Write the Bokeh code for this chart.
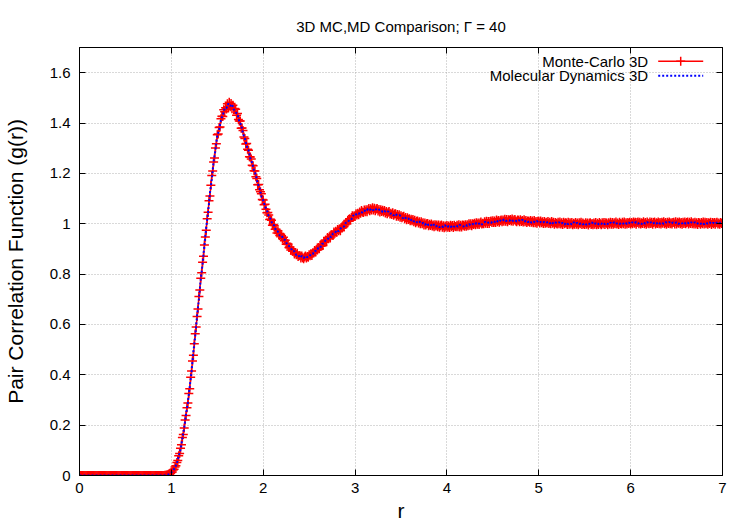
import numpy as np
from bokeh.plotting import figure
from bokeh.models import Range1d, LinearAxis, FixedTicker, CustomJSTickFormatter
from bokeh.core.properties import value
from bokeh.embed import file_html
from bokeh.resources import INLINE

# ---- text and ticks ----
title_text = "3D MC,MD Comparison; \u0393 = 40"
x_label = "r"
y_label = "Pair Correlation Function (g(r))"
series_names = ["Monte-Carlo 3D", "Molecular Dynamics 3D"]
x_ticks = [0, 1, 2, 3, 4, 5, 6, 7]
y_ticks = [0, 0.2, 0.4, 0.6, 0.8, 1.0, 1.2, 1.4, 1.6]

# ---- Monte-Carlo g(r), bins of width 0.01 starting at r = 0 ----
mc_dr = 0.01
g_mc = [
    0, 0, 0, 0, 0, 0, 0, 0, 0, 0,
    0, 0, 0, 0, 0, 0, 0, 0, 0, 0,
    0, 0, 0, 0, 0, 0, 0, 0, 0, 0,
    0, 0, 0, 0, 0, 0, 0, 0, 0, 0,
    0, 0, 0, 0, 0, 0, 0, 0, 0, 0,
    0, 0, 0, 0, 0, 0, 0, 0, 0, 0,
    0, 0, 0, 0, 0, 0, 0, 0, 0, 0,
    0, 0, 0, 0, 0, 0, 0, 0, 0, 0,
    0, 0, 0, 0, 0, 0, 0, 0, 0, 0,
    0.000, 0.000, 0.000, 0.001, 0.001, 0.002, 0.003, 0.005, 0.006, 0.008,
    0.012, 0.014, 0.022, 0.025, 0.034, 0.039, 0.052, 0.060, 0.078, 0.087,
    0.108, 0.122, 0.151, 0.163, 0.189, 0.220, 0.238, 0.269, 0.288, 0.326,
    0.345, 0.390, 0.415, 0.455, 0.478, 0.523, 0.563, 0.590, 0.632, 0.661,
    0.711, 0.737, 0.783, 0.805, 0.847, 0.871, 0.916, 0.947, 0.974, 1.020,
    1.046, 1.091, 1.110, 1.153, 1.192, 1.209, 1.245, 1.261, 1.301, 1.318,
    1.353, 1.356, 1.382, 1.384, 1.417, 1.427, 1.426, 1.453, 1.445, 1.461,
    1.456, 1.477, 1.465, 1.483, 1.465, 1.478, 1.457, 1.471, 1.455, 1.458,
    1.455, 1.431, 1.438, 1.414, 1.408, 1.408, 1.379, 1.380, 1.370, 1.345,
    1.339, 1.317, 1.319, 1.296, 1.292, 1.266, 1.265, 1.257, 1.232, 1.230,
    1.210, 1.209, 1.187, 1.180, 1.155, 1.156, 1.135, 1.127, 1.119, 1.096,
    1.094, 1.075, 1.077, 1.058, 1.044, 1.045, 1.035, 1.017, 1.018, 1.014,
    0.994, 0.997, 0.993, 0.978, 0.978, 0.963, 0.972, 0.961, 0.953, 0.958,
    0.952, 0.940, 0.946, 0.932, 0.934, 0.919, 0.921, 0.920, 0.906, 0.908,
    0.896, 0.901, 0.891, 0.892, 0.880, 0.886, 0.877, 0.883, 0.870, 0.874,
    0.873, 0.864, 0.872, 0.865, 0.861, 0.868, 0.872, 0.864, 0.870, 0.867,
    0.877, 0.873, 0.881, 0.874, 0.885, 0.884, 0.894, 0.888, 0.897, 0.896,
    0.906, 0.901, 0.911, 0.919, 0.913, 0.914, 0.929, 0.926, 0.935, 0.932,
    0.945, 0.940, 0.948, 0.943, 0.956, 0.956, 0.953, 0.967, 0.962, 0.970,
    0.966, 0.977, 0.972, 0.979, 0.972, 0.984, 0.983, 0.993, 0.989, 0.998,
    1.003, 1.000, 1.013, 1.010, 1.020, 1.015, 1.025, 1.032, 1.026, 1.032,
    1.029, 1.040, 1.035, 1.042, 1.036, 1.047, 1.042, 1.053, 1.047, 1.045,
    1.055, 1.048, 1.056, 1.048, 1.056, 1.061, 1.052, 1.060, 1.055, 1.063,
    1.055, 1.062, 1.052, 1.059, 1.061, 1.051, 1.057, 1.047, 1.056, 1.049,
    1.054, 1.047, 1.053, 1.043, 1.049, 1.040, 1.046, 1.049, 1.039, 1.042,
    1.037, 1.044, 1.034, 1.039, 1.040, 1.030, 1.037, 1.030, 1.036, 1.026,
    1.032, 1.024, 1.028, 1.030, 1.020, 1.025, 1.016, 1.024, 1.017, 1.020,
    1.012, 1.018, 1.012, 1.017, 1.008, 1.014, 1.004, 1.010, 1.011, 1.003,
    1.008, 1.000, 1.008, 1.000, 1.004, 0.995, 1.003, 0.995, 1.000, 1.001,
    0.992, 0.998, 0.993, 0.999, 0.991, 0.995, 0.988, 0.996, 0.991, 0.995,
    0.988, 0.995, 0.986, 0.992, 0.995, 0.986, 0.992, 0.984, 0.991, 0.987,
    0.993, 0.986, 0.991, 0.985, 0.994, 0.988, 0.993, 0.985, 0.994, 0.989,
    0.988, 0.994, 0.988, 0.996, 0.987, 0.994, 0.987, 0.995, 0.994, 0.990,
    0.996, 0.990, 0.996, 0.992, 1.000, 0.994, 1.000, 0.992, 1.000, 0.997,
    1.002, 0.996, 1.004, 0.998, 1.003, 0.997, 1.003, 1.007, 0.999, 1.002,
    1.000, 1.008, 1.002, 1.010, 1.001, 1.009, 1.001, 1.009, 1.011, 1.005,
    1.012, 1.005, 1.011, 1.005, 1.015, 1.008, 1.013, 1.006, 1.012, 1.015,
    1.008, 1.015, 1.010, 1.018, 1.010, 1.017, 1.008, 1.016, 1.013, 1.017,
    1.011, 1.019, 1.010, 1.015, 1.017, 1.011, 1.008, 1.015, 1.014, 1.008,
    1.016, 1.009, 1.013, 1.007, 1.016, 1.008, 1.013, 1.005, 1.011, 1.010,
    1.006, 1.013, 1.006, 1.011, 1.004, 1.013, 1.004, 1.009, 1.002, 1.010,
    1.010, 1.003, 1.011, 1.004, 1.008, 1.001, 1.009, 1.002, 1.006, 1.003,
    1.009, 1.001, 1.006, 1.000, 1.009, 1.002, 1.006, 0.998, 1.005, 1.002,
    0.999, 1.006, 1.000, 1.007, 0.999, 1.004, 0.997, 1.006, 1.000, 1.004,
    1.003, 0.997, 1.006, 0.998, 1.004, 0.999, 1.005, 0.996, 1.002, 0.998,
    1.005, 0.998, 1.003, 0.996, 1.004, 1.000, 1.006, 0.997, 1.003, 0.999,
    0.997, 1.004, 0.998, 1.003, 0.995, 1.002, 1.004, 0.997, 1.001, 0.996,
    1.003, 0.998, 1.005, 0.996, 1.002, 0.997, 1.005, 1.000, 0.996, 1.004,
    0.999, 1.005, 0.997, 1.004, 1.002, 0.996, 1.004, 0.999, 1.006, 0.998,
    1.005, 0.998, 1.004, 1.000, 1.007, 0.999, 1.003, 0.997, 1.006, 1.001,
    0.999, 1.006, 1.000, 1.007, 0.998, 1.004, 0.999, 1.005, 1.001, 1.006,
    0.999, 1.005, 1.000, 1.007, 1.002, 1.006, 0.998, 1.005, 1.007, 1.000,
    1.006, 0.999, 1.004, 1.001, 1.008, 1.000, 1.005, 0.998, 1.007, 1.002,
    1.000, 1.007, 1.001, 1.006, 0.998, 1.005, 1.007, 0.999, 1.004, 1.001,
    1.007, 1.000, 1.005, 0.999, 1.006, 1.002, 1.008, 1.000, 1.005, 0.998,
    1.006, 1.001, 1.007, 1.000, 1.004, 0.999, 1.005, 1.006, 0.999, 1.008,
    0.999, 1.006, 1.002, 1.007, 1.000, 1.005, 0.998, 1.006, 1.001, 1.007,
    1.000, 1.005, 1.007, 0.999, 1.006, 1.001, 1.008, 1.000, 1.004, 0.999,
    1.006, 0.999, 1.004, 0.997, 1.005, 1.003, 0.998, 1.005, 1.000, 1.007,
    0.999, 1.006, 1.000, 1.005, 0.998, 1.004, 1.001, 1.006, 0.997, 1.005,
    1.000, 1.005, 0.998, 1.004, 1.006, 0.999, 1.003, 0.998, 1.005, 1.001,
    1.004,
]

# ---- Molecular-dynamics g(r), bins of width 0.02 starting at r = 0 ----
md_dr = 0.02
g_md = [
    0, 0, 0, 0, 0, 0, 0, 0, 0, 0,
    0, 0, 0, 0, 0, 0, 0, 0, 0, 0,
    0, 0, 0, 0, 0, 0, 0, 0, 0, 0,
    0, 0, 0, 0, 0, 0, 0, 0, 0, 0,
    0, 0, 0, 0, 0,
    0.000, 0.000, 0.001, 0.003, 0.005, 0.012, 0.019, 0.033, 0.048, 0.077,
    0.102, 0.149, 0.188, 0.246, 0.290, 0.353, 0.412, 0.492, 0.554, 0.635,
    0.701, 0.781, 0.840, 0.915, 0.987, 1.044, 1.122, 1.175, 1.248, 1.293,
    1.351, 1.371, 1.415, 1.430, 1.459, 1.459, 1.477, 1.467, 1.475, 1.454,
    1.442, 1.436, 1.406, 1.393, 1.358, 1.339, 1.308, 1.293, 1.258, 1.242,
    1.211, 1.194, 1.160, 1.142, 1.109, 1.093, 1.068, 1.055, 1.028, 1.019,
    0.997, 0.993, 0.972, 0.969, 0.953, 0.954, 0.938, 0.935, 0.917, 0.912,
    0.904, 0.890, 0.891, 0.876, 0.877, 0.865, 0.872, 0.864, 0.872, 0.867,
    0.868, 0.880, 0.880, 0.893, 0.891, 0.905, 0.904, 0.920, 0.922, 0.935,
    0.937, 0.950, 0.947, 0.961, 0.962, 0.975, 0.970, 0.980, 0.988, 0.989,
    1.004, 1.005, 1.018, 1.018, 1.033, 1.030, 1.042, 1.039, 1.048, 1.044,
    1.053, 1.048, 1.059, 1.054, 1.061, 1.053, 1.060, 1.052, 1.056, 1.057,
    1.046, 1.051, 1.044, 1.049, 1.039, 1.042, 1.033, 1.040, 1.032, 1.034,
    1.031, 1.022, 1.028, 1.018, 1.021, 1.011, 1.018, 1.009, 1.012, 1.003,
    1.009, 1.000, 1.003, 0.995, 1.003, 0.994, 0.998, 0.989, 0.997, 0.989,
    0.994, 0.986, 0.992, 0.986, 0.994, 0.985, 0.991, 0.986, 0.994, 0.988,
    0.994, 0.988, 0.996, 0.990, 0.989, 0.996, 0.992, 0.999, 0.993, 0.999,
    0.995, 1.003, 0.998, 1.004, 0.997, 1.005, 1.008, 1.002, 1.007, 1.003,
    1.011, 1.007, 1.014, 1.006, 1.013, 1.009, 1.017, 1.010, 1.015, 1.012,
    1.018, 1.011, 1.015, 1.009, 1.015, 1.010, 1.016, 1.007, 1.012, 1.006,
    1.012, 1.004, 1.010, 1.005, 1.011, 1.004, 1.007, 1.002, 1.008, 1.003,
    1.008, 1.001, 1.008, 0.999, 1.005, 1.001, 1.006, 0.999, 1.004, 0.997,
    1.005, 0.998, 1.003, 0.997, 1.006, 0.999, 1.004, 0.998, 1.003, 0.997,
    1.003, 0.996, 1.002, 0.998, 1.005, 0.997, 1.002, 0.996, 1.003, 0.999,
    1.005, 0.998, 1.003, 0.997, 1.005, 1.000, 1.006, 0.999, 1.004, 0.999,
    1.005, 1.000, 1.006, 0.999, 1.005, 0.999, 1.006, 1.001, 1.007, 1.000,
    1.005, 0.999, 1.006, 1.000, 1.007, 1.001, 1.006, 0.999, 1.005, 1.000,
    1.007, 1.000, 1.005, 0.999, 1.006, 1.002, 1.007, 1.000, 1.005, 1.001,
    1.006, 0.999, 1.005, 1.001, 1.007, 1.000, 1.005, 0.999, 1.006, 1.001,
    1.006, 0.999, 1.004, 0.999, 1.005, 0.998, 1.004, 1.000, 1.006, 0.999,
    1.004, 0.999, 1.005, 1.000, 1.004, 1.002,
]

r_mc = np.round(np.arange(len(g_mc)) * mc_dr, 2)
r_md = np.round(np.arange(len(g_md)) * md_dr, 2)

FONT = "Liberation Sans"
MC_COLOR = "#ff0000"
MD_COLOR = "#0000ff"

p = figure(
    width=750, height=525,
    output_backend="svg", toolbar_location=None,
    x_range=Range1d(x_ticks[0], x_ticks[-1]),
    y_range=Range1d(0, 1.7),
    min_border_left=77, min_border_right=28,
    min_border_top=47, min_border_bottom=50,
    background_fill_color="white", border_fill_color="white",
)
p.outline_line_color = "black"
p.outline_line_width = 1

# title, lifted well clear of the frame
p.title.text = title_text
p.title.align = "center"
p.title.text_font = FONT
p.title.text_font_size = "15px"
p.title.text_font_style = "normal"
p.title.text_color = "black"
p.title.standoff = 26

label_fmt = CustomJSTickFormatter(code="return (Math.round(tick * 10) / 10).toString();")
blank_fmt = CustomJSTickFormatter(code="return '';")


def style_axis(ax, ticks, fmt):
    ax.ticker = FixedTicker(ticks=ticks)
    ax.formatter = fmt
    ax.axis_line_color = "black"
    ax.axis_line_width = 1
    ax.major_tick_line_color = "black"
    ax.major_tick_in = 6
    ax.major_tick_out = 0
    ax.minor_tick_line_color = None
    ax.major_label_text_font = FONT
    ax.major_label_text_font_size = "15px"
    ax.major_label_text_color = "black"
    ax.axis_label_text_font = FONT
    ax.axis_label_text_font_size = "21px"
    ax.axis_label_text_font_style = "normal"
    ax.axis_label_text_color = "black"


xa = p.xaxis[0]
ya = p.yaxis[0]
style_axis(xa, x_ticks, label_fmt)
style_axis(ya, y_ticks, label_fmt)
xa.axis_label = x_label
ya.axis_label = y_label
xa.major_label_standoff = 7
xa.axis_label_standoff = 3
ya.major_label_standoff = 9
ya.axis_label_standoff = 20

# mirrored tick marks on the top and right edges
top_ax = LinearAxis()
style_axis(top_ax, x_ticks, blank_fmt)
top_ax.major_label_standoff = 0
right_ax = LinearAxis()
style_axis(right_ax, y_ticks, blank_fmt)
right_ax.major_label_standoff = 0
p.add_layout(top_ax, "above")
p.add_layout(right_ax, "right")

# dotted grid
for g, ticks in ((p.xgrid[0], x_ticks), (p.ygrid[0], y_ticks)):
    g.ticker = FixedTicker(ticks=ticks)
    g.grid_line_color = "#a0a0a0"
    g.grid_line_width = 1
    g.grid_line_dash = "1 2"
    g.grid_line_alpha = 0.8

# Monte-Carlo: line with crosses
p.line(r_mc, g_mc, line_color=MC_COLOR, line_width=1.5)
p.scatter(r_mc, g_mc, marker="cross", size=9, line_color=MC_COLOR, line_width=1.5)

# Molecular dynamics: dotted line
p.line(r_md, g_md, line_color=MD_COLOR, line_width=2, line_dash="2 2")

# key, top right: right-justified text followed by a line sample
key_text_x = 6.19
key_line_x0, key_line_x1 = 6.30, 6.79
key_rows_y = [1.645, 1.588]
p.text(x=[key_text_x] * 2, y=key_rows_y, text=series_names,
       text_align="right", text_baseline="middle",
       text_font=value(FONT), text_font_size="15px", text_color="black")
p.segment(x0=[key_line_x0], y0=[key_rows_y[0]], x1=[key_line_x1], y1=[key_rows_y[0]],
          line_color=MC_COLOR, line_width=1.5)
p.scatter(x=[(key_line_x0 + key_line_x1) / 2], y=[key_rows_y[0]], marker="cross",
          size=9, line_color=MC_COLOR, line_width=1.5)
p.segment(x0=[key_line_x0], y0=[key_rows_y[1]], x1=[key_line_x1], y1=[key_rows_y[1]],
          line_color=MD_COLOR, line_width=2, line_dash="2 2")

open("out.html", "w").write(file_html(p, INLINE))
